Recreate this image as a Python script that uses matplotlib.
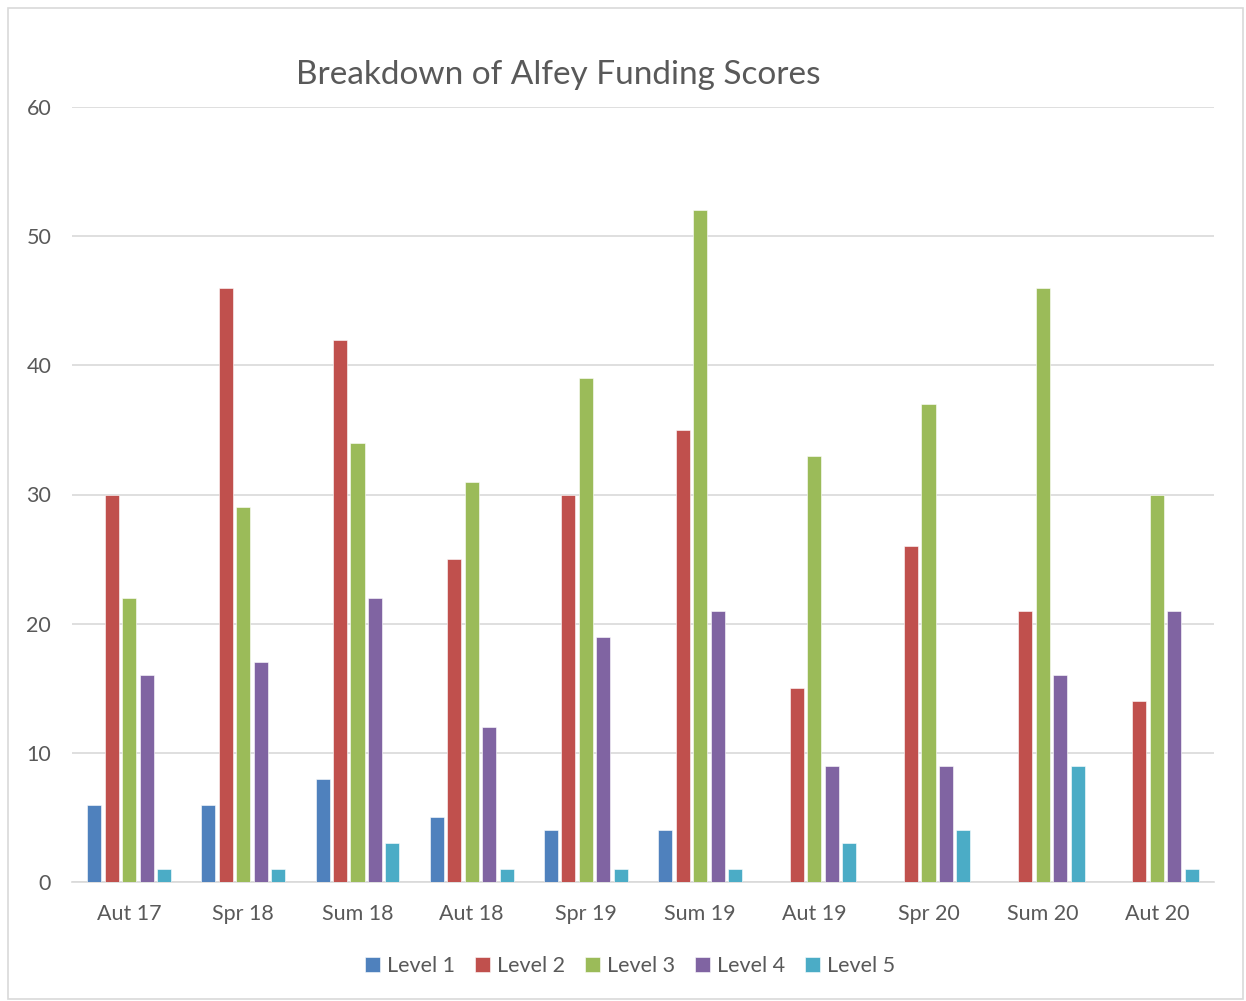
import matplotlib
matplotlib.use("Agg")
import matplotlib.pyplot as plt
import numpy as np
from matplotlib.patches import Rectangle

categories = ["Aut 17", "Spr 18", "Sum 18", "Aut 18", "Spr 19", "Sum 19", "Aut 19", "Spr 20", "Sum 20", "Aut 20"]
level1 = [6, 6, 8, 5, 4, 4, 0, 0, 0, 0]
level2 = [30, 46, 42, 25, 30, 35, 15, 26, 21, 14]
level3 = [22, 29, 34, 31, 39, 52, 33, 37, 46, 30]
level4 = [16, 17, 22, 12, 19, 21, 9, 9, 16, 21]
level5 = [1, 1, 3, 1, 1, 1, 3, 4, 9, 1]
series_names = ["Level 1", "Level 2", "Level 3", "Level 4", "Level 5"]
colors = ["#4F81BD", "#C0504D", "#9BBB59", "#8064A2", "#4BACC6"]

plt.rcParams['font.family'] = ['Lato', 'DejaVu Sans']

fig = plt.figure(figsize=(12.46, 10.01), dpi=100)
# outer chart border
fig.patches.append(Rectangle((8/1246, 2/1001), (1243-8)/1246, (1001-8-2)/1001,
                             transform=fig.transFigure, fill=False,
                             edgecolor="#D9D9D9", linewidth=1.2))

ax = fig.add_axes([72/1246, 1-882/1001, (1214-72)/1246, (882-107)/1001])
x = np.arange(len(categories))
step = 0.153
width = 0.123
data = [level1, level2, level3, level4, level5]
for i, (vals, c, name) in enumerate(zip(data, colors, series_names)):
    ax.bar(x + (i - 2) * step, vals, width=width, color=c, label=name,
           edgecolor="white", linewidth=0.4, zorder=3)

ax.set_xlim(-0.5, len(categories) - 0.5)
ax.set_ylim(0, 60)
ax.set_yticks(range(0, 61, 10))
ax.set_xticks(x)
ax.set_xticklabels(categories)
ax.grid(axis='y', color="#D9D9D9", linewidth=1.2, zorder=0)
for s in ["top", "right", "left"]:
    ax.spines[s].set_visible(False)
ax.spines["bottom"].set_color("#D9D9D9")
ax.spines["bottom"].set_linewidth(1.2)
ax.tick_params(axis='both', length=0, labelsize=15.5, labelcolor="#595959")
ax.tick_params(axis='y', pad=15)
ax.tick_params(axis='x', pad=16)

fig.text(558/1246, 1-75/1001, "Breakdown of Alfey Funding Scores", ha="center", va="center",
         fontsize=24, color="#595959")

leg = fig.legend(loc="center", bbox_to_anchor=(630/1246, 1-966/1001), ncol=5, frameon=False,
                 fontsize=15.5, handlelength=0.7, handleheight=0.7, handletextpad=0.3,
                 columnspacing=0.95)
for t in leg.get_texts():
    t.set_color("#595959")

fig.savefig("out.png", dpi=100)
